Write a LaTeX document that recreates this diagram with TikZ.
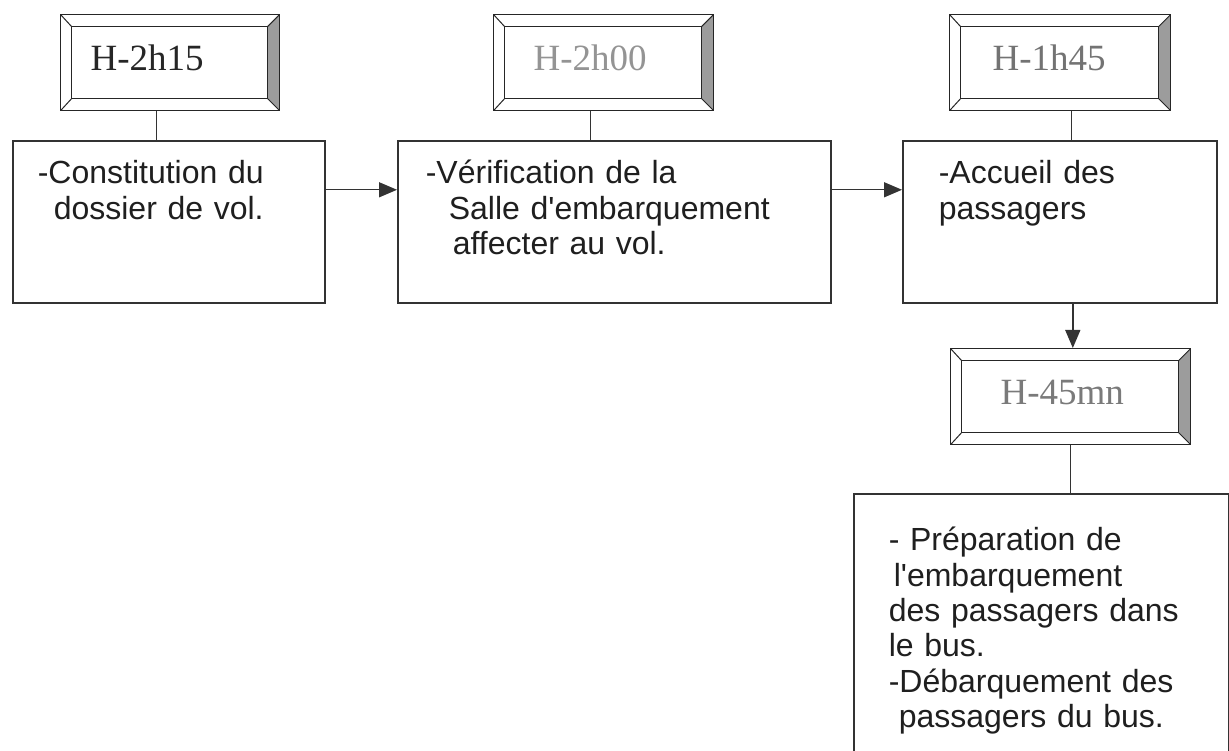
\documentclass[tikz,border=0pt]{standalone}
\usepackage{fontspec}
\usetikzlibrary{arrows.meta}
\newfontfamily\bodyfont{Liberation Sans}
\newfontfamily\framefont{Liberation Serif}
\definecolor{bevelgray}{HTML}{9C9C9C}
\begin{document}
\begin{tikzpicture}[x=1pt,y=-1pt,
  timeframe/.style={draw=black!85, line width=1.2pt, anchor=north west,
    inner ysep=0pt, minimum height=96pt, align=left,
    text height=30pt, text depth=14pt,
    font=\framefont\fontsize{37}{40}\selectfont,
    path picture={
      \path (path picture bounding box.north west) coordinate (pnw)
            (path picture bounding box.north east) coordinate (pne)
            (path picture bounding box.south east) coordinate (pse)
            (path picture bounding box.south west) coordinate (psw);
      % shaded right bevel
      \fill[bevelgray] (pne) -- (pse) -- ([shift={(-12pt,12pt)}]pse)
            -- ([shift={(-12pt,-12pt)}]pne) -- cycle;
      % inner panel and corner mitres
      \draw[black!85, line width=1.2pt] ([shift={(11pt,-12pt)}]pnw)
            rectangle ([shift={(-12pt,12pt)}]pse);
      \draw[black!85, line width=1pt]
            (pnw) -- ([shift={(11pt,-12pt)}]pnw)
            (pne) -- ([shift={(-12pt,-12pt)}]pne)
            (psw) -- ([shift={(11pt,12pt)}]psw)
            (pse) -- ([shift={(-12pt,12pt)}]pse);
    }},
  stepbox/.style={draw=black!80, line width=1.6pt, anchor=north west,
    inner ysep=0pt, align=left, text=black!88,
    font=\bodyfont\fontsize{32}{35.3}\selectfont},
  link/.style={draw=black!80, line width=1.4pt},
  flow/.style={link, -{Triangle[length=18pt,width=15pt]}}
]
\fill[white] (0,0) rectangle (1229,751);
\useasboundingbox (0,0) rectangle (1229,751);

% time markers
\node[timeframe, inner xsep=30pt, text width=159pt, text=black!85] (f1) at (60,14) {H-2h15};
\node[timeframe, inner xsep=40pt, text width=140pt, text=black!42] (f2) at (493,14) {H-2h00};
\node[timeframe, inner xsep=43pt, text width=135pt, text=black!55] (f3) at (949,14) {H-1h45};
\node[timeframe, inner xsep=50pt, text width=140pt, text=black!52] (f4) at (950,348) {H-45mn};

% task boxes
\node[stepbox, inner xsep=25pt, text width=262pt, text height=43pt, text depth=119pt] (b1) at (12,140)
  {-Constitution du\\\hspace*{16pt}dossier de vol.};
\node[stepbox, inner xsep=28pt, text width=377pt, text height=43pt, text depth=119pt] (b2) at (397,140)
  {-Vérification de la\\\hspace*{23pt}Salle d\textquotesingle embarquement\\\hspace*{27pt}affecter au vol.};
\node[stepbox, inner xsep=36pt, text width=242pt, text height=43pt, text depth=119pt] (b3) at (902,140)
  {-Accueil des\\passagers};
\node[stepbox, inner xsep=35pt, text width=305pt, text height=57pt, text depth=210pt] (b4) at (853,493)
  {- Préparation de\\\hspace*{5pt}l\textquotesingle embarquement\\des passagers dans\\le bus.\\-Débarquement des\\\hspace*{10pt}passagers du bus.};

% marker-to-task links
\draw[link] ([xshift=-13.5pt]f1.south) coordinate (c1) -- (c1 |- b1.north);
\draw[link] ([xshift=-13pt]f2.south) coordinate (c2) -- (c2 |- b2.north);
\draw[link] ([xshift=11.5pt]f3.south) coordinate (c3) -- (c3 |- b3.north);
\draw[link] (f4.south) -- (f4.south |- b4.north);

% sequence arrows
\draw[flow] ([yshift=32pt]b1.east) -- ([yshift=32pt]b2.west);
\draw[flow] ([yshift=32pt]b2.east) -- ([yshift=32pt]b3.west);
\draw[flow] ([xshift=13pt]b3.south) coordinate (c4) -- (c4 |- f4.north);
\end{tikzpicture}
\end{document}
